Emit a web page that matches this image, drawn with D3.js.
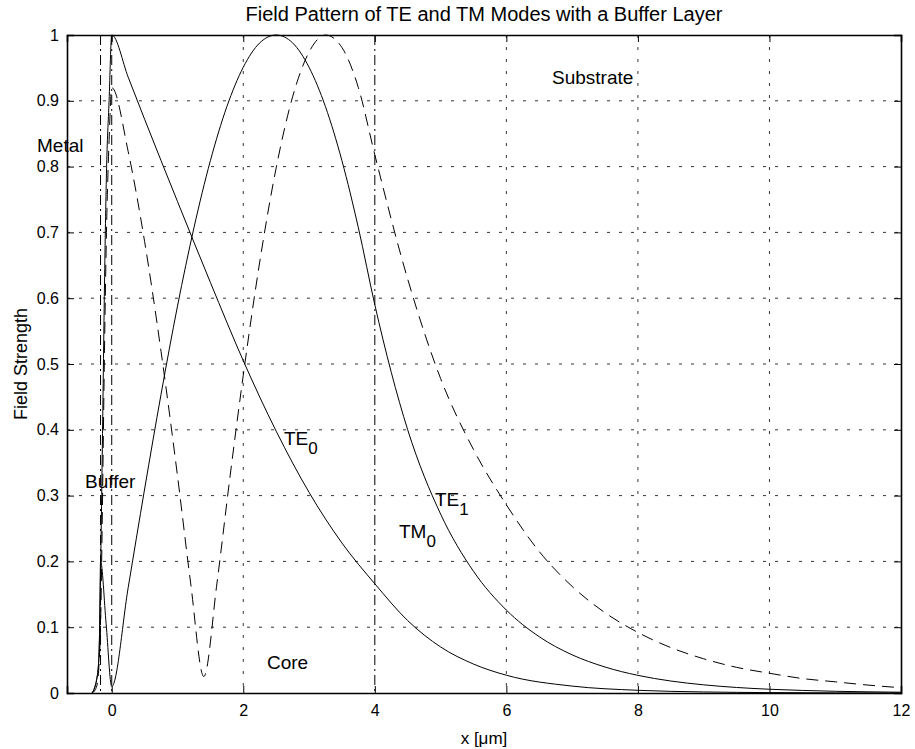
<!DOCTYPE html>
<html lang="en">
<head>
<meta charset="UTF-8">
<title>Field Pattern of TE and TM Modes with a Buffer Layer</title>
<script src="https://cdn.jsdelivr.net/npm/d3@7"></script>
<style>
    body { margin: 0; background: #fff; }
    svg { display: block; }
    text { font-family: "Liberation Sans", Arial, Helvetica, sans-serif; fill: #000; }
</style>
</head>
<body>
<script>
    // x positions [um] and field values
    var te0X = [-0.3, -0.26, -0.23, -0.2, -0.185, -0.17, -0.15, -0.13, -0.11, -0.08, -0.04, 0,
        0.25, 0.5, 1, 1.5, 2, 2.5, 3, 3.5, 4, 4.5, 5, 5.5, 6, 7, 8, 9, 10, 11, 12];
    var te0Y = [0, 0.008, 0.02, 0.045, 0.09, 0.18, 0.32, 0.47, 0.62, 0.79, 0.9, 1,
        0.936, 0.872, 0.747, 0.624, 0.505, 0.398, 0.305, 0.228, 0.166, 0.11, 0.07, 0.044, 0.027,
        0.0105, 0.0041, 0.0016, 0.0006, 0.0002, 0.0001];

    var tm0X = [-0.3, -0.26, -0.23, -0.2, -0.185, -0.17, -0.085, 0,
        0.25, 0.5, 0.75, 1, 1.25, 1.5, 1.75, 2, 2.25, 2.5, 2.75, 3, 3.25, 3.5, 3.75, 4,
        4.5, 5, 5.5, 6, 6.5, 7, 7.5, 8, 8.5, 9, 9.5, 10, 10.5, 11, 11.5, 12];
    var tm0Y = [0, 0.008, 0.02, 0.045, 0.09, 0.2, 0.105, 0.01,
        0.16, 0.31, 0.454, 0.588, 0.707, 0.809, 0.891, 0.951, 0.988, 1, 0.988, 0.951, 0.891, 0.809, 0.707, 0.59,
        0.4, 0.272, 0.185, 0.126, 0.0855, 0.058, 0.0395, 0.0268, 0.0182, 0.0124, 0.0084, 0.0057, 0.0039, 0.0026, 0.0018, 0.0012];

    var te1X = [-0.3, -0.25, -0.21, -0.19, -0.17, -0.15, -0.13, -0.11, -0.08, -0.04, 0,
        0.25, 0.5, 0.75, 1, 1.2, 1.4, 1.6, 1.8, 2, 2.25, 2.5, 2.75, 3, 3.25, 3.5, 3.75, 4,
        4.5, 5, 5.5, 6, 6.5, 7, 7.5, 8, 8.5, 9, 9.5, 10, 10.5, 11, 11.5, 12];
    var te1Y = [0, 0.005, 0.02, 0.05, 0.1, 0.22, 0.37, 0.52, 0.7, 0.84, 0.92,
        0.823, 0.686, 0.519, 0.33, 0.167, 0.025, 0.167, 0.33, 0.483, 0.655, 0.798, 0.906, 0.974, 1, 0.981, 0.92, 0.818,
        0.629, 0.478, 0.37, 0.286, 0.215, 0.162, 0.122, 0.092, 0.069, 0.052, 0.039, 0.03, 0.022, 0.017, 0.012, 0.008];

    var layerEdges = [-0.17, 0, 4];
    var xTicks = [0, 2, 4, 6, 8, 10, 12];
    var yTicks = [0, 0.1, 0.2, 0.3, 0.4, 0.5, 0.6, 0.7, 0.8, 0.9, 1];

    var W = 915, H = 749;
    var pL = 67, pT = 35, pR = 901, pB = 693;

    var x = d3.scaleLinear().domain([-0.68, 12]).range([pL, pR]);
    var y = d3.scaleLinear().domain([0, 1]).range([pB, pT]);

    var svg = d3.select("body").append("svg")
        .attr("width", W)
        .attr("height", H);

    // grid
    svg.append("g").selectAll("line")
        .data(yTicks.slice(1, -1))
        .enter().append("line")
        .attr("x1", pL).attr("x2", pR)
        .attr("y1", function(d) { return y(d); })
        .attr("y2", function(d) { return y(d); })
        .attr("stroke", "#000").attr("stroke-width", 0.8)
        .attr("stroke-dasharray", "3,9");
    svg.append("g").selectAll("line")
        .data(xTicks.filter(function(d) { return layerEdges.indexOf(d) < 0 && d < 12; }))
        .enter().append("line")
        .attr("y1", pT).attr("y2", pB)
        .attr("x1", function(d) { return x(d); })
        .attr("x2", function(d) { return x(d); })
        .attr("stroke", "#000").attr("stroke-width", 0.8)
        .attr("stroke-dasharray", "3,9");

    // layer boundaries
    svg.append("g").selectAll("line")
        .data(layerEdges)
        .enter().append("line")
        .attr("y1", pT).attr("y2", pB)
        .attr("x1", function(d) { return x(d); })
        .attr("x2", function(d) { return x(d); })
        .attr("stroke", "#000").attr("stroke-width", 1)
        .attr("stroke-dasharray", "10,4,2,4");

    // curves
    var line = d3.line()
        .x(function(d) { return x(d[0]); })
        .y(function(d) { return y(d[1]); })
        .curve(d3.curveMonotoneX);

    function drawCurve(xs, ys, dash) {
        svg.append("path")
            .datum(d3.zip(xs, ys))
            .attr("d", line)
            .attr("fill", "none")
            .attr("stroke", "#000")
            .attr("stroke-width", 1)
            .attr("stroke-dasharray", dash);
    }
    drawCurve(te0X, te0Y, null);
    drawCurve(tm0X, tm0Y, null);
    drawCurve(te1X, te1Y, "12,7");

    // axes box with inward ticks
    var tl = 7;
    var axB = svg.append("g").attr("transform", "translate(0," + pB + ")")
        .call(d3.axisBottom(x).tickValues(xTicks).tickSize(-tl).tickPadding(12).tickFormat(d3.format("d")));
    var axT = svg.append("g").attr("transform", "translate(0," + pT + ")")
        .call(d3.axisTop(x).tickValues(xTicks).tickSize(-tl).tickFormat(""));
    var axL = svg.append("g").attr("transform", "translate(" + pL + ",0)")
        .call(d3.axisLeft(y).tickValues(yTicks).tickSize(-tl).tickPadding(8)
            .tickFormat(function(d) { return d === 0 || d === 1 ? d : d3.format(".1f")(d); }));
    var axR = svg.append("g").attr("transform", "translate(" + pR + ",0)")
        .call(d3.axisRight(y).tickValues(yTicks).tickSize(-tl).tickFormat(""));
    [axB, axT, axL, axR].forEach(function(g) {
        g.select(".domain").attr("stroke-width", 1.6);
        g.selectAll(".tick line").attr("stroke-width", 1);
        g.selectAll("text").style("font-size", "16px")
            .style("font-family", "'Liberation Sans', Arial, sans-serif");
    });

    svg.append("text")
        .attr("x", (pL + pR) / 2).attr("y", 21)
        .attr("text-anchor", "middle").style("font-size", "20px")
        .text("Field Pattern of TE and TM Modes with a Buffer Layer");
    svg.append("text")
        .attr("x", (pL + pR) / 2).attr("y", 744)
        .attr("text-anchor", "middle").style("font-size", "17px")
        .text("x [\u03bcm]");
    svg.append("text")
        .attr("transform", "translate(27," + ((pT + pB) / 2) + ") rotate(-90)")
        .attr("text-anchor", "middle").style("font-size", "18px")
        .text("Field Strength");

    // region and mode labels
    var notes = [
        { t: "Substrate", x: 552, y: 84 },
        { t: "Metal", x: 37, y: 152 },
        { t: "Buffer", x: 85, y: 488 },
        { t: "Core", x: 267, y: 669 }
    ];
    svg.append("g").selectAll("text")
        .data(notes)
        .enter().append("text")
        .attr("x", function(d) { return d.x; })
        .attr("y", function(d) { return d.y; })
        .style("font-size", "19px")
        .text(function(d) { return d.t; });

    var modes = [
        { t: "TE", s: "0", x: 284, y: 445 },
        { t: "TM", s: "0", x: 399, y: 538 },
        { t: "TE", s: "1", x: 435, y: 506 }
    ];
    modes.forEach(function(m) {
        var t = svg.append("text")
            .attr("x", m.x).attr("y", m.y)
            .style("font-size", "19px");
        t.append("tspan").text(m.t);
        t.append("tspan").attr("dy", 9).style("font-size", "17px").text(m.s);
    });
</script>
</body>
</html>
